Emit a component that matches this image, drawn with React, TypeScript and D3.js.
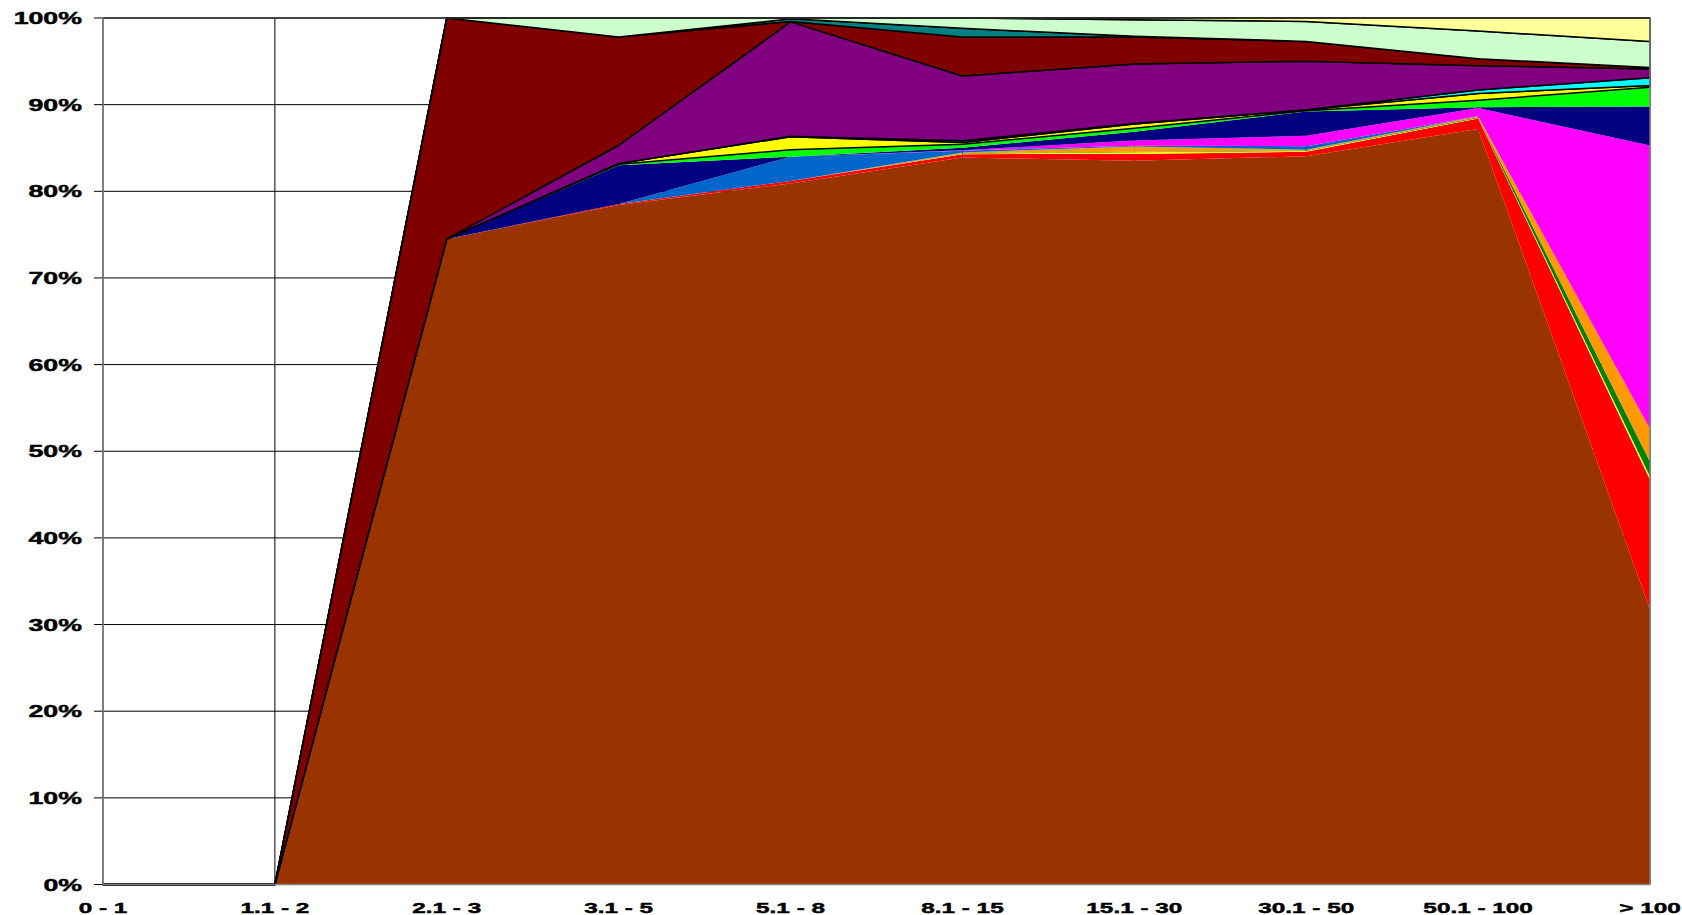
import React from "react";
import * as d3 from "d3";

const categories = ["0 - 1", "1.1 - 2", "2.1 - 3", "3.1 - 5", "5.1 - 8", "8.1 - 15", "15.1 - 30", "30.1 - 50", "50.1 - 100", "> 100"];

const brown = [0, 0, 74.5, 78.5, 80.9, 84.1, 83.6, 84.1, 87.2, 31.7];
const red = [0, 0, 0, 0.1, 0.3, 0.4, 0.8, 0.5, 1.2, 15.0];
const yellowLow = [0, 0, 0, 0, 0, 0.05, 0.2, 0.1, 0.05, 0.4];
const darkGreen = [0, 0, 0, 0, 0, 0.05, 0.05, 0.05, 0.1, 1.7];
const orange = [0, 0, 0, 0, 0, 0.1, 0.6, 0.1, 0.1, 3.8];
const blue = [0, 0, 0, 0, 2.8, 0.2, 0.1, 0.4, 0, 0];
const magenta = [0, 0, 0, 0, 0, 0.05, 0.6, 1.2, 0.95, 32.7];
const navy = [0, 0, 0, 4.5, 0, 0.3, 1.0, 2.8, 0.1, 4.5];
const lime = [0, 0, 0, 0.1, 0.8, 0.4, 0.4, 0.1, 0.8, 2.2];
const yellow = [0, 0, 0, 0.1, 1.5, 0.2, 0.5, 0.1, 0.8, 0.2];
const cyan = [0, 0, 0, 0, 0.05, 0.2, 0.05, 0, 0.4, 0.9];
const purple = [0, 0, 0, 2.1, 13.2, 7.5, 6.9, 5.6, 2.8, 1.0];
const darkRed = [0, 0, 25.5, 12.5, 0.05, 4.5, 3.1, 2.3, 0.8, 0.2];
const teal = [0, 0, 0, 0, 0.3, 1.0, 0.1, 0, 0, 0];
const lightGreen = [0, 0, 0, 2.2, 0.1, 1.2, 1.9, 2.3, 3.2, 3.0];
const lightYellow = [0, 0, 0, 0, 0, 0, 0.2, 0.4, 1.5, 2.7];

const yTicks = [0, 0.1, 0.2, 0.3, 0.4, 0.5, 0.6, 0.7, 0.8, 0.9, 1.0];

const seriesDefs = [
  { key: "brown", values: brown, fill: "#993300", stroke: false },
  { key: "red", values: red, fill: "#FF0000", stroke: false },
  { key: "yellowLow", values: yellowLow, fill: "#FFFF00", stroke: false },
  { key: "darkGreen", values: darkGreen, fill: "#008000", stroke: false },
  { key: "orange", values: orange, fill: "#FF9900", stroke: false },
  { key: "blue", values: blue, fill: "#0066CC", stroke: false },
  { key: "magenta", values: magenta, fill: "#FF00FF", stroke: false },
  { key: "navy", values: navy, fill: "#000080", stroke: false },
  { key: "lime", values: lime, fill: "#00FF00", stroke: false },
  { key: "yellow", values: yellow, fill: "#FFFF00", stroke: true },
  { key: "cyan", values: cyan, fill: "#00FFFF", stroke: true },
  { key: "purple", values: purple, fill: "#800080", stroke: true },
  { key: "darkRed", values: darkRed, fill: "#800000", stroke: true },
  { key: "teal", values: teal, fill: "#008080", stroke: true },
  { key: "lightGreen", values: lightGreen, fill: "#CCFFCC", stroke: true },
  { key: "lightYellow", values: lightYellow, fill: "#FFFF99", stroke: true },
];

const W = 1682;
const H = 915;
const left = 103;
const right = 1650;
const top = 18;
const bottom = 884.5;
const FONT = "'Liberation Sans', Arial, sans-serif";

export default function App() {
  const x = d3.scalePoint<string>().domain(categories).range([left, right]).padding(0);
  const y = d3.scaleLinear().domain([0, 1]).range([bottom, top]);

  const table = categories.map((c, i) => {
    const row: any = { cat: c };
    seriesDefs.forEach((s) => (row[s.key] = s.values[i]));
    return row;
  });
  const stack = d3
    .stack<any>()
    .keys(seriesDefs.map((s) => s.key))
    .offset(d3.stackOffsetExpand);
  const stacked = stack(table);

  const area = d3
    .area<any>()
    .x((d) => x(d.data.cat) as number)
    .y0((d) => y(isNaN(d[0]) ? 0 : d[0]))
    .y1((d) => y(isNaN(d[1]) ? 0 : d[1]));

  return (
    <svg width={W} height={H} style={{ position: "absolute", left: 0, top: 0, background: "#fff" }}>
      <rect x={left} y={top} width={right - left} height={bottom - top} fill="#fff" />
      {yTicks.map((t) => (
        <line key={"g" + t} x1={left - 9} x2={right} y1={y(t)} y2={y(t)} stroke="#000" strokeWidth={1} />
      ))}
      {categories.map((c) => (
        <line key={"v" + c} x1={x(c)} x2={x(c)} y1={top} y2={bottom} stroke="#000" strokeWidth={1} />
      ))}
      {stacked.map((s, i) => {
        const def = seriesDefs[i];
        return (
          <path
            key={def.key}
            d={area(s) as string}
            fill={def.fill}
            stroke={def.stroke ? "#000" : "none"}
            strokeWidth={def.stroke ? 1.5 : 0}
            strokeLinejoin="round"
          />
        );
      })}
      <line x1={left} x2={right} y1={top} y2={top} stroke="#333" strokeWidth={1.5} />
      <line x1={left} x2={left} y1={top} y2={bottom} stroke="#808080" strokeWidth={1.5} />
      <line x1={right} x2={right} y1={top} y2={bottom} stroke="#808080" strokeWidth={1.5} />
      <line x1={left} x2={right} y1={bottom} y2={bottom} stroke="#808080" strokeWidth={1.5} />
      {yTicks.map((t) => (
        <text
          key={"yl" + t}
          transform={`translate(${82},${y(t) + 6}) scale(1.62,1)`}
          textAnchor="end"
          fontFamily={FONT}
          fontWeight="bold"
          fontSize={16.5}
          fill="#000"
          stroke="#000"
          strokeWidth={0.45}
        >
          {d3.format(".0%")(t)}
        </text>
      ))}
      {categories.map((c) => (
        <text
          key={"xl" + c}
          transform={`translate(${x(c)},${912.5}) scale(1.57,1)`}
          textAnchor="middle"
          fontFamily={FONT}
          fontWeight="bold"
          fontSize={15.5}
          fill="#000"
          stroke="#000"
          strokeWidth={0.45}
        >
          {c}
        </text>
      ))}
    </svg>
  );
}
